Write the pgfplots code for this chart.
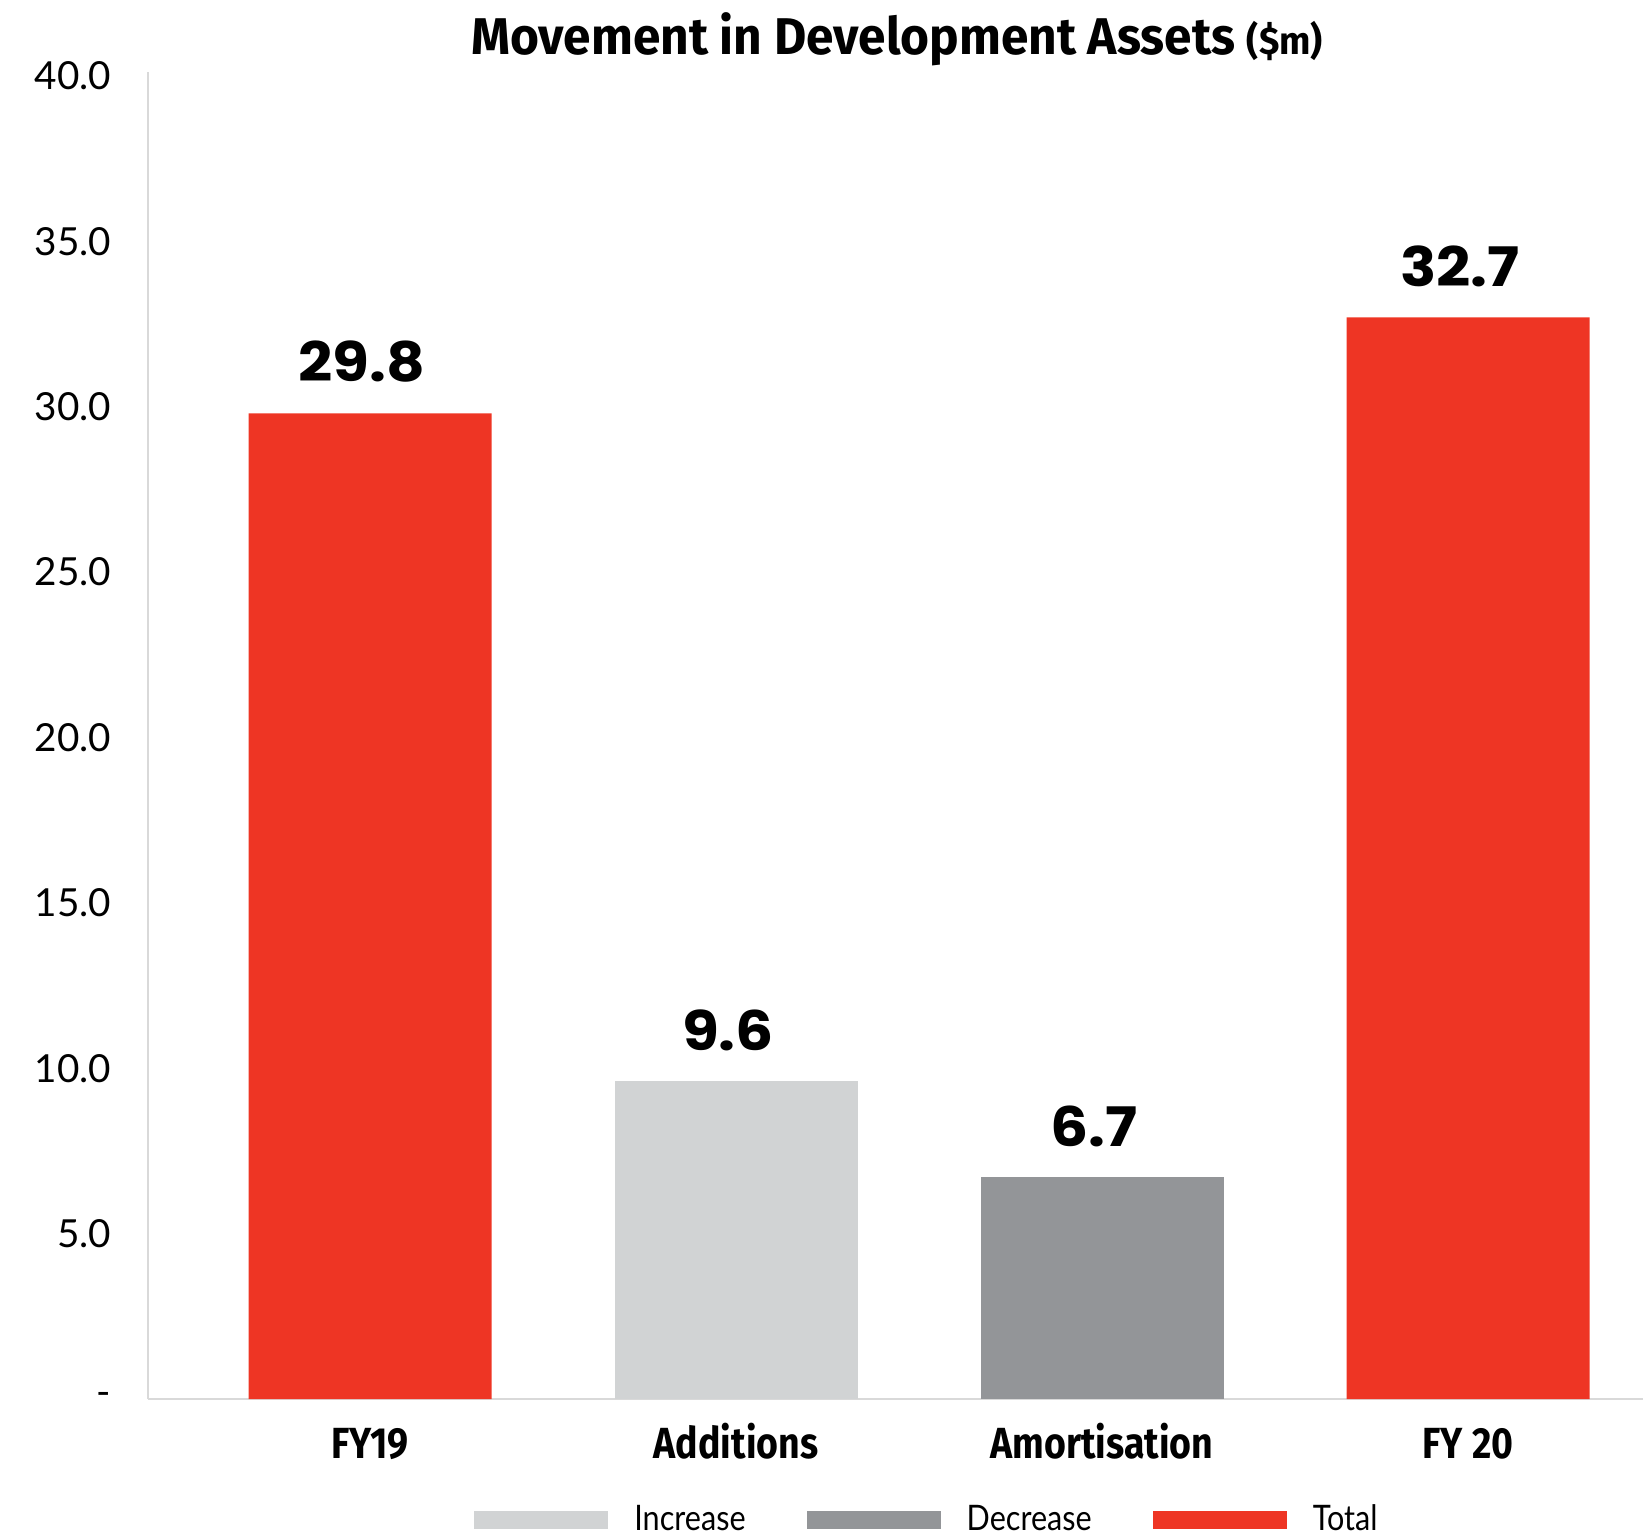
\documentclass[border=0pt]{standalone}
\usepackage{fontspec}
\setmainfont{Lato}
\newfontfamily\poppins{Poppins}[FakeStretch=1.1]
\newfontfamily\titlefont{Fira Sans}[FakeStretch=0.96]
\newfontfamily\catfont{Fira Sans}[FakeStretch=0.86]
\newfontfamily\legfont{Lato}[FakeStretch=0.87]
\usepackage{pgfplots}
\pgfplotsset{compat=1.18}
\definecolor{cred}{HTML}{EE3524}
\definecolor{clight}{HTML}{D1D3D4}
\definecolor{cdark}{HTML}{939598}
\definecolor{caxis}{HTML}{D9D9D9}
\pgfplotsset{leg/.style={legend image code/.code={\fill[##1] (0mm,-0.9mm) rectangle (13.4mm,0.9mm); \path (15.3mm,0mm);}}}
\begin{document}
\begin{tikzpicture}
\begin{axis}[
 scale only axis,
 width=149.5mm, height=132.7mm,
 xmin=-0.6066, xmax=3.478,
 ymin=0, ymax=40.12,
 axis x line=bottom, axis y line=left,
 axis line style={draw=caxis, line width=0.6pt, -},
 xtick={0,1,2,3},
 xticklabels={FY19, Additions, Amortisation, FY 20},
 ytick={0,5,...,40},
 yticklabels={-,5.0,10.0,15.0,20.0,25.0,30.0,35.0,40.0},
 major tick length=0pt,
 tick style={draw=none},
 /pgf/number format/assume math mode=true,
 yticklabel style={font=\fontsize{11}{13}\selectfont, inner sep=0pt, anchor=east, xshift=-3.6mm},
 xticklabel style={font=\catfont\bfseries\fontsize{12.4}{14}\selectfont, inner sep=0pt, anchor=base, yshift=-5.9mm},
 nodes near coords,
 point meta=explicit symbolic,
 nodes near coords style={font=\poppins\bfseries\fontsize{15.5}{18}\selectfont, inner sep=0pt, anchor=south, yshift=3mm, xshift=-0.8mm, text=black},
 legend columns=3,
 legend cell align=left,
 legend style={draw=none, fill=none, at={(0.5227,-0.0912)}, anchor=center, font=\legfont\fontsize{10}{12}\selectfont, /tikz/every even column/.append style={column sep=5.4mm}},
 clip=false,
]
\addplot[ybar, bar width=0.664, bar shift=0pt, fill=clight, draw=none, leg] coordinates {(1,9.6) [9.6]};
\addlegendentry{Increase}
\addplot[ybar, bar width=0.664, bar shift=0pt, fill=cdark, draw=none, leg] coordinates {(2,6.7) [6.7]};
\addlegendentry{Decrease}
\addplot[ybar, bar width=0.664, bar shift=0pt, fill=cred, draw=none, leg] coordinates {(0,29.8) [29.8] (3,32.7) [32.7]};
\addlegendentry{Total}
\node[anchor=base, inner sep=0pt, font=\titlefont\bfseries\fontsize{14.7}{17}\selectfont] at (rel axis cs:0.501,1.0132) {Movement in Development Assets {\fontsize{11}{13}\selectfont(\$m)}};
\coordinate (O) at (rel axis cs:0,0);
\end{axis}
\pgfresetboundingbox
\path ([shift={(-14.8mm,-13.8mm)}]O) rectangle ([shift={(149.5mm,139.9mm)}]O);
\end{tikzpicture}
\end{document}
